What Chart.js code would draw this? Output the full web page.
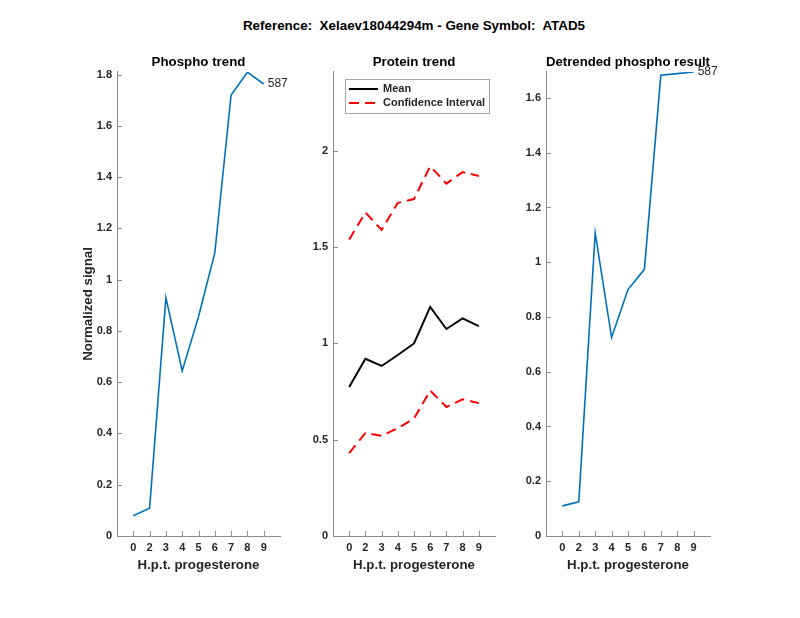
<!DOCTYPE html>
<html>
<head>
<meta charset="utf-8">
<script src="https://cdn.jsdelivr.net/npm/chart.js@4.4.1/dist/chart.umd.min.js"></script>
<style>
  body { margin: 0; background: #fff; width: 800px; height: 618px; position: relative; overflow: hidden; }
  canvas { position: absolute; top: 0; }
  #title {
    position: absolute; top: 18px; left: 0; width: 828px; text-align: center;
    font: bold 13.4px "Liberation Sans", Arial, sans-serif; line-height: 16px; color: #000;
  }
</style>
</head>
<body>
<div id="title">Reference:&nbsp; Xelaev18044294m - Gene Symbol:&nbsp; ATAD5</div>
<canvas id="phosphoChart" width="225" height="618" style="left:75px"></canvas>
<canvas id="proteinChart" width="215" height="618" style="left:300px"></canvas>
<canvas id="detrendChart" width="245" height="618" style="left:515px"></canvas>
<script>
// x positions are the category slots, labels are the hours
const xPos = [1, 2, 3, 4, 5, 6, 7, 8, 9];
const xLabels = ["0", "2", "3", "4", "5", "6", "7", "8", "9"];

const phospho = [0.079, 0.108, 0.93, 0.644, 0.855, 1.104, 1.72, 1.809, 1.763];
const proteinMean = [0.774, 0.92, 0.883, 0.94, 1.0, 1.19, 1.075, 1.13, 1.09];
const ciUpper = [1.54, 1.68, 1.59, 1.73, 1.75, 1.92, 1.83, 1.89, 1.87];
const ciLower = [0.43, 0.535, 0.52, 0.56, 0.61, 0.755, 0.67, 0.71, 0.69];
const detrended = [0.11, 0.125, 1.107, 0.725, 0.9, 0.974, 1.683, 1.689, 1.695];

const phosphoTicks = [0, 0.2, 0.4, 0.6, 0.8, 1, 1.2, 1.4, 1.6, 1.8];
const proteinTicks = [0, 0.5, 1, 1.5, 2];
const detrendTicks = [0, 0.2, 0.4, 0.6, 0.8, 1, 1.2, 1.4, 1.6];
const peptideId = "587";

const FONT = "'Liberation Sans', Arial, Helvetica, sans-serif";
const textColor = "#262626";
const axisColor = "#8c8c8c";
const blue = "#0072BD";

function points(vals) {
  return vals.map((v, i) => ({ x: xPos[i], y: v }));
}

// matlab style ticks pointing into the plot
const inwardTicks = {
  id: "inwardTicks",
  afterDraw(chart) {
    const { ctx, chartArea: a, scales } = chart;
    ctx.save();
    ctx.strokeStyle = axisColor;
    ctx.lineWidth = 1;
    ctx.beginPath();
    scales.x.ticks.forEach((t) => {
      const px = Math.round(scales.x.getPixelForValue(t.value)) + 0.5;
      ctx.moveTo(px, a.bottom);
      ctx.lineTo(px, a.bottom - 5);
    });
    scales.y.ticks.forEach((t) => {
      const py = Math.round(scales.y.getPixelForValue(t.value)) + 0.5;
      ctx.moveTo(a.left, py);
      ctx.lineTo(a.left + 5, py);
    });
    ctx.stroke();
    ctx.restore();
  },
};

// text next to the last point of the first dataset
const endLabel = {
  id: "endLabel",
  afterDatasetsDraw(chart, args, opts) {
    if (!opts || !opts.text) return;
    const data = chart.data.datasets[0].data;
    const last = data[data.length - 1];
    const { ctx, scales } = chart;
    ctx.save();
    ctx.font = "12px " + FONT;
    ctx.fillStyle = textColor;
    ctx.textBaseline = "middle";
    ctx.fillText(opts.text, scales.x.getPixelForValue(last.x + 0.25), scales.y.getPixelForValue(last.y));
    ctx.restore();
  },
};

// boxed legend inside the plot area, top left
const boxLegend = {
  id: "boxLegend",
  afterDraw(chart, args, opts) {
    if (!opts || !opts.display) return;
    const { ctx, chartArea: a } = chart;
    const items = chart.data.datasets.filter((d) => d.label);
    ctx.save();
    ctx.font = "bold 11px " + FONT;
    const lineLen = 29, gap = 5, pad = 4, rowH = 14;
    const textW = Math.max(...items.map((d) => ctx.measureText(d.label).width));
    const left = Math.round(a.left + 12), top = Math.round(a.top + 7);
    const w = Math.round(pad + lineLen + gap + textW + pad);
    const h = items.length * rowH + 6;
    ctx.fillStyle = "#fff";
    ctx.fillRect(left, top, w, h);
    ctx.strokeStyle = "#a6a6a6";
    ctx.lineWidth = 1;
    ctx.strokeRect(left + 0.5, top + 0.5, w, h);
    items.forEach((d, i) => {
      const cy = top + 10 + i * rowH;
      ctx.strokeStyle = d.borderColor;
      ctx.lineWidth = d.borderWidth;
      ctx.setLineDash(d.borderDash || []);
      ctx.beginPath();
      ctx.moveTo(left + pad, cy);
      ctx.lineTo(left + pad + lineLen, cy);
      ctx.stroke();
      ctx.setLineDash([]);
      ctx.fillStyle = textColor;
      ctx.textBaseline = "middle";
      ctx.fillText(d.label, left + pad + lineLen + gap, cy);
    });
    ctx.restore();
  },
};

function xScale() {
  return {
    type: "linear",
    min: 0,
    max: 10,
    afterBuildTicks: (s) => { s.ticks = xPos.map((v) => ({ value: v })); },
    afterFit: (s) => { s.height = 50; },
    grid: { display: false, drawTicks: false },
    border: { display: true, color: axisColor, width: 1 },
    ticks: {
      autoSkip: false,
      maxRotation: 0,
      padding: 5,
      color: textColor,
      font: { family: FONT, size: 11, weight: "bold" },
      callback: (v) => xLabels[xPos.indexOf(v)],
    },
    title: {
      display: true,
      text: "H.p.t. progesterone",
      color: textColor,
      font: { family: FONT, size: 13.3, weight: "bold" },
      padding: { top: 0, bottom: 13 },
    },
  };
}

function yScale(max, tickVals, width, titleText) {
  return {
    type: "linear",
    min: 0,
    max: max,
    afterBuildTicks: (s) => { s.ticks = tickVals.map((v) => ({ value: v })); },
    afterFit: (s) => { s.width = width; },
    grid: { display: false, drawTicks: false },
    border: { display: true, color: axisColor, width: 1 },
    ticks: {
      padding: 5,
      color: textColor,
      font: { family: FONT, size: 11, weight: "bold" },
      callback: (v) => String(+v.toFixed(2)),
    },
    title: {
      display: !!titleText,
      text: titleText || "",
      color: textColor,
      font: { family: FONT, size: 13.3, weight: "bold" },
      padding: { top: 5, bottom: 0 },
    },
  };
}

function panelTitle(text) {
  return {
    display: true,
    text: text,
    fullSize: false,
    color: "#000",
    font: { family: FONT, size: 13.3, weight: "bold" },
    padding: { top: 54, bottom: 2 },
  };
}

const common = {
  responsive: false,
  animation: false,
  events: [],
  elements: { point: { radius: 0 }, line: { tension: 0 } },
};

new Chart(document.getElementById("phosphoChart").getContext("2d"), {
  type: "line",
  data: {
    datasets: [
      { data: points(phospho), borderColor: blue, borderWidth: 1.6, fill: false },
    ],
  },
  options: {
    ...common,
    layout: { padding: { left: 0, right: 20, top: 0, bottom: 32 } },
    scales: { x: xScale(), y: yScale(1.81, phosphoTicks, 42, "Normalized signal") },
    plugins: {
      legend: { display: false },
      tooltip: { enabled: false },
      title: panelTitle("Phospho trend"),
      endLabel: { text: peptideId },
    },
  },
  plugins: [inwardTicks, endLabel],
});

new Chart(document.getElementById("proteinChart").getContext("2d"), {
  type: "line",
  data: {
    datasets: [
      { label: "Mean", data: points(proteinMean), borderColor: "#000", borderWidth: 2, fill: false },
      { label: "Confidence Interval", data: points(ciUpper), borderColor: "#ff0000", borderWidth: 2, borderDash: [10, 6], fill: false },
      { label: "", data: points(ciLower), borderColor: "#ff0000", borderWidth: 2, borderDash: [10, 6], fill: false },
    ],
  },
  options: {
    ...common,
    layout: { padding: { left: 0, right: 20, top: 0, bottom: 32 } },
    scales: { x: xScale(), y: yScale(2.41, proteinTicks, 33) },
    plugins: {
      legend: { display: false },
      tooltip: { enabled: false },
      title: panelTitle("Protein trend"),
      boxLegend: { display: true },
    },
  },
  plugins: [inwardTicks, boxLegend],
});

new Chart(document.getElementById("detrendChart").getContext("2d"), {
  type: "line",
  data: {
    datasets: [
      { data: points(detrended), borderColor: blue, borderWidth: 1.6, fill: false },
    ],
  },
  options: {
    ...common,
    layout: { padding: { left: 0, right: 50, top: 0, bottom: 32 } },
    scales: { x: xScale(), y: yScale(1.695, detrendTicks, 31) },
    plugins: {
      legend: { display: false },
      tooltip: { enabled: false },
      title: panelTitle("Detrended phospho result"),
      endLabel: { text: peptideId },
    },
  },
  plugins: [inwardTicks, endLabel],
});
</script>
</body>
</html>
